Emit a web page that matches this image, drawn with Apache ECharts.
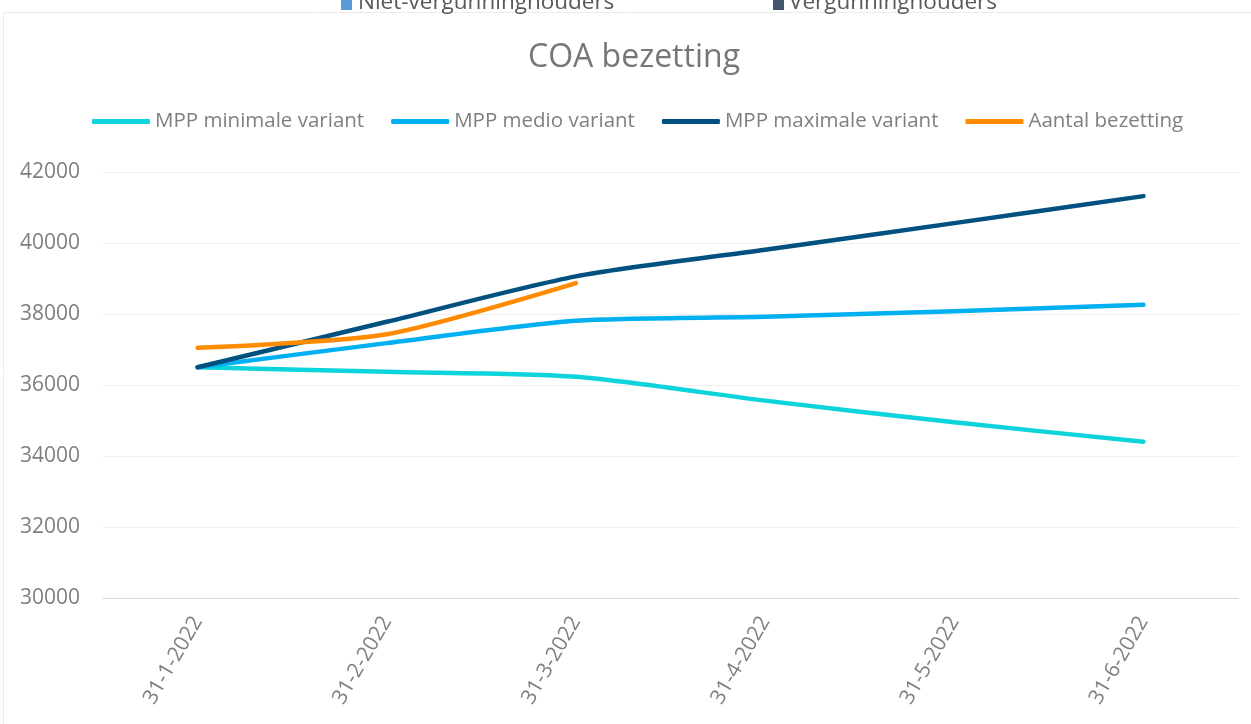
<!DOCTYPE html>
<html>
<head>
<meta charset="utf-8">
<script src="https://cdn.jsdelivr.net/npm/echarts@6/dist/echarts.min.js"></script>
<style>
html,body{margin:0;padding:0;background:#fff;}
#chart{width:1251px;height:724px;}
</style>
</head>
<body>
<div id="chart"></div>
<script>
var categories = ['31-1-2022', '31-2-2022', '31-3-2022', '31-4-2022', '31-5-2022', '31-6-2022'];
var mppMinimaal = [36500, 36370, 36230, 35560, 34950, 34400];
var mppMedio = [36500, 37180, 37810, 37920, 38080, 38260];
var mppMaximaal = [36500, 37780, 39060, 39810, 40560, 41320];
var aantalBezetting = [37050, 37430, 38870, null, null, null];
var seriesNames = ['MPP minimale variant', 'MPP medio variant', 'MPP maximale variant', 'Aantal bezetting'];
var topLegendNames = ['Niet-vergunninghouders', 'Vergunninghouders'];
var title = 'COA bezetting';

var FONT = '"Open Sans", "Noto Sans", sans-serif';
var colors = ['#0DD3DB', '#00B0F0', '#00517F', '#FF8C00'];

var chart = echarts.init(document.getElementById('chart'), null, {renderer: 'canvas'});

function lineSeries(name, data, color) {
  return {
    name: name,
    type: 'line',
    data: data,
    smooth: 0.25,
    showSymbol: false,
    symbol: 'none',
    connectNulls: false,
    lineStyle: {color: color, width: 4.5, cap: 'round', join: 'round'},
    itemStyle: {color: color}
  };
}

var option = {
  backgroundColor: '#ffffff',
  animation: false,
  title: {
    text: title,
    left: 523,
    top: 37,
    textStyle: {fontFamily: FONT, fontSize: 32, fontWeight: 'normal', color: '#777777'}
  },
  legend: {
    data: seriesNames,
    left: 87,
    top: 106,
    itemWidth: 58,
    itemHeight: 5,
    itemGap: 27,
    icon: 'roundRect',
    textStyle: {fontFamily: FONT, fontSize: 20.5, color: '#7f7f7f'}
  },
  grid: {left: 103, right: 13, top: 172, bottom: 126, containLabel: false},
  xAxis: {
    type: 'category',
    data: categories,
    boundaryGap: true,
    axisLine: {show: true, lineStyle: {color: '#d9d9d9', width: 1}},
    axisTick: {show: false},
    axisLabel: {rotate: 60, color: '#7f7f7f', fontFamily: FONT, fontSize: 21, margin: 20}
  },
  yAxis: {
    type: 'value',
    min: 30000,
    max: 42000,
    interval: 2000,
    axisLine: {show: false},
    axisTick: {show: false},
    axisLabel: {color: '#7f7f7f', fontFamily: FONT, fontSize: 21, margin: 23, formatter: function (v) { return String(v); }},
    splitLine: {lineStyle: {color: '#efefef', width: 1}}
  },
  graphic: [
    {type: 'rect', shape: {x: 3.5, y: 12.5, width: 1400, height: 1000}, style: {fill: 'none', stroke: '#ececec', lineWidth: 1}, silent: true, z: -1},
    {type: 'rect', shape: {x: 341, y: 0, width: 11, height: 10}, style: {fill: '#5B9BD5'}, silent: true},
    {type: 'text', x: 358, y: 14, style: {text: topLegendNames[0], font: '22.5px ' + FONT, fill: '#595959', textVerticalAlign: 'bottom'}, silent: true},
    {type: 'rect', shape: {x: 773, y: 0, width: 11, height: 10}, style: {fill: '#44546A'}, silent: true},
    {type: 'text', x: 789, y: 14, style: {text: topLegendNames[1], font: '22.5px ' + FONT, fill: '#595959', textVerticalAlign: 'bottom'}, silent: true}
  ],
  series: [
    lineSeries(seriesNames[0], mppMinimaal, colors[0]),
    lineSeries(seriesNames[1], mppMedio, colors[1]),
    lineSeries(seriesNames[2], mppMaximaal, colors[2]),
    lineSeries(seriesNames[3], aantalBezetting, colors[3])
  ]
};
chart.setOption(option);
</script>
</body>
</html>
